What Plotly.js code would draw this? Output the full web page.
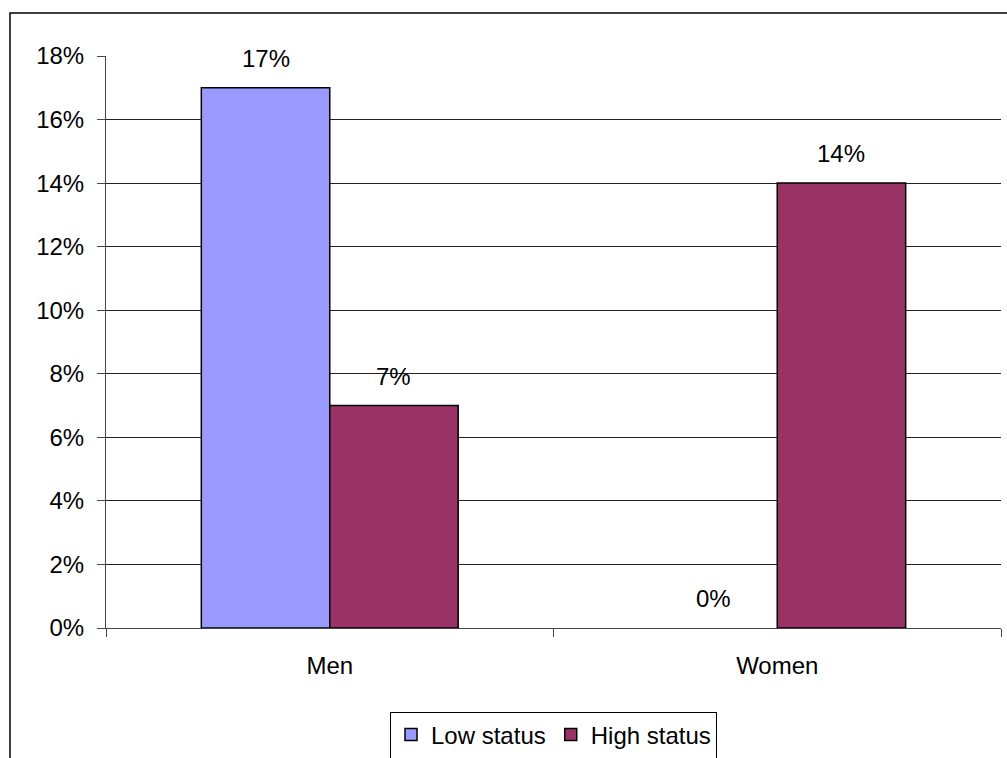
<!DOCTYPE html>
<html><head><meta charset="utf-8">
<script src="https://cdn.plot.ly/plotly-3.0.1.min.js"></script>
<style>html,body{margin:0;padding:0;background:#fff;}#chart{width:1007px;height:758px;}</style>
</head><body><div id="chart"></div>
<script>
const categories = ["Men", "Women"];
const seriesNames = ["Low status", "High status"];
const lowStatus = [17, 0];
const highStatus = [7, 14];
const seriesColors = ["#9999FF", "#993366"];
const yTickVals = [0, 2, 4, 6, 8, 10, 12, 14, 16, 18];
const yTickText = ["0%", "2%", "4%", "6%", "8%", "10%", "12%", "14%", "16%", "18%"];

const font = {family: "Liberation Sans, Arial, sans-serif", size: 24, color: "#000"};
const allSeries = [lowStatus, highStatus];

const traces = allSeries.map((vals, i) => ({
  type: "bar",
  name: seriesNames[i],
  x: categories,
  y: vals,
  marker: {color: seriesColors[i], line: {color: "#000", width: vals.map(v => v === 0 ? 0 : 1.5)}},
  hoverinfo: "skip"
}));

const annotations = [];
allSeries.forEach((vals, i) => {
  vals.forEach((v, j) => {
    annotations.push({
      x: categories[j], y: v, xref: "x", yref: "y",
      text: v + "%", showarrow: false,
      xshift: (i === 0 ? -64 : 64), yanchor: "bottom", yshift: 14,
      font: font
    });
  });
});

const layout = {
  width: 1007, height: 758,
  margin: {l: 106, r: 6, t: 56, b: 130, autoexpand: false},
  paper_bgcolor: "#fff", plot_bgcolor: "#fff",
  font: font,
  barmode: "group",
  bargap: 0.426, bargroupgap: 0,
  showlegend: true,
  legend: {
    orientation: "h", x: 0.5, xanchor: "center", y: -0.146, yanchor: "top",
    bordercolor: "#000", borderwidth: 1, font: font,
    traceorder: "normal", itemwidth: 30
  },
  xaxis: {
    type: "category", showgrid: false, showline: true, linecolor: "#444", linewidth: 1,
    ticks: "outside", tickson: "boundaries", ticklen: 8, tickcolor: "#444",
    ticklabelstandoff: 16, tickfont: font, mirror: false, zeroline: false
  },
  yaxis: {
    range: [0, 18], tickvals: yTickVals, ticktext: yTickText,
    showgrid: true, gridcolor: "#222", gridwidth: 1,
    showline: true, linecolor: "#444", linewidth: 1,
    ticks: "outside", ticklen: 8, tickcolor: "#444",
    ticklabelstandoff: 8, tickfont: font, zeroline: false
  },
  annotations: annotations,
  shapes: [{
    type: "rect", xref: "paper", yref: "paper",
    x0: (10 - 106) / 895, x1: 1.05, y0: -0.3, y1: 1 + (56 - 13) / 572,
    line: {color: "#000", width: 1.5}, fillcolor: "rgba(0,0,0,0)", layer: "below"
  }]
};

Plotly.newPlot("chart", traces, layout, {staticPlot: true, displayModeBar: false});
</script></body></html>
